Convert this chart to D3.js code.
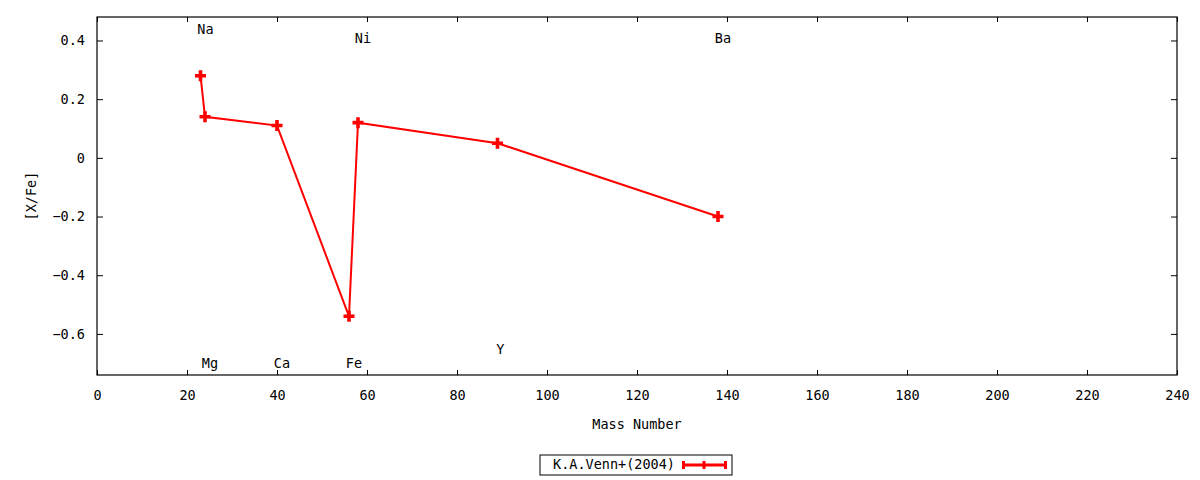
<!DOCTYPE html>
<html>
<head>
<meta charset="utf-8">
<script src="https://cdn.jsdelivr.net/npm/d3@7"></script>
<style>
  body { margin: 0; background: #fff; }
  text { font-family: "DejaVu Sans Mono", monospace; font-size: 13.5px; fill: #000; }
</style>
</head>
<body>
<div id="root"></div>
<script>
// data
var elements = ["Na", "Mg", "Ca", "Fe", "Ni", "Y", "Ba"]
var massNumber = [23, 24, 40, 56, 58, 89, 138]
var xFe = [0.28, 0.14, 0.11, -0.54, 0.12, 0.05, -0.20]
// where the element names sit
var labelX = [22.3, 23.3, 39.3, 55.3, 57.3, 88.7, 137.3]
var labelY = [0.44, -0.70, -0.70, -0.70, 0.41, -0.65, 0.41]
var xTicks = [0, 20, 40, 60, 80, 100, 120, 140, 160, 180, 200, 220, 240]
var yTicks = [-0.6, -0.4, -0.2, 0, 0.2, 0.4]
var seriesName = "K.A.Venn+(2004)"

var margin = {top: 17, right: 23, bottom: 105, left: 97}
var width = 1200 - margin.left - margin.right
var height = 480 - margin.top - margin.bottom

var svg = d3.select("#root")
            .append("svg")
            .attr("width", 1200)
            .attr("height", 480)
            .append("g")
            .attr("transform", "translate(" + margin.left + "," + margin.top + ")")

var x = d3.scaleLinear().domain([0, 240]).range([0, width])
var y = d3.scaleLinear().domain([-0.74, 0.48]).range([height, 0])

var fmt = function(d){ return d === 0 ? "0" : d3.format(".1f")(d) }

// axes, ticks pointing inward and mirrored like gnuplot
svg.append("g")
    .attr("transform", "translate(0," + height + ")")
    .call(d3.axisBottom(x).tickValues(xTicks).tickSizeInner(-5).tickSizeOuter(0).tickPadding(15))
svg.append("g")
    .call(d3.axisTop(x).tickValues(xTicks).tickSizeInner(-5).tickSizeOuter(0).tickFormat(""))
svg.append("g")
    .call(d3.axisLeft(y).tickValues(yTicks).tickFormat(fmt).tickSizeInner(-6).tickSizeOuter(0).tickPadding(12))
svg.append("g")
    .attr("transform", "translate(" + width + ",0)")
    .call(d3.axisRight(y).tickValues(yTicks).tickSizeInner(-6).tickSizeOuter(0).tickFormat(""))

svg.selectAll(".domain").remove()
svg.selectAll(".tick line").attr("stroke", "#000")
svg.selectAll(".tick text").style("font-size", "13.5px").style("font-family", "'DejaVu Sans Mono', monospace")

svg.append("rect")
    .attr("width", width)
    .attr("height", height)
    .attr("fill", "none")
    .attr("stroke", "#000")
    .attr("stroke-width", 1.2)

// axis titles
svg.append("text")
    .attr("x", width / 2)
    .attr("y", height + 54)
    .attr("text-anchor", "middle")
    .text("Mass Number")
svg.append("text")
    .attr("transform", "translate(" + (-65) + "," + (height / 2) + ") rotate(-90)")
    .attr("text-anchor", "middle")
    .attr("dominant-baseline", "middle")
    .text("[X/Fe]")

// element names
svg.selectAll(".elabel")
    .data(elements)
    .enter()
    .append("text")
      .attr("class", "elabel")
      .attr("x", function(d, i){ return x(labelX[i]) })
      .attr("y", function(d, i){ return y(labelY[i]) + 1 })
      .attr("dominant-baseline", "middle")
      .text(function(d){ return d })

// the series
var pts = massNumber.map(function(m, i){ return [m, xFe[i]] })
svg.append("path")
    .datum(pts)
    .attr("fill", "none")
    .attr("stroke", "#ff0000")
    .attr("stroke-width", 2)
    .attr("d", d3.line().x(function(d){ return x(d[0]) }).y(function(d){ return y(d[1]) }))

var plus = "M-5.5,0H5.5M0,-5.5V5.5"
svg.selectAll(".pt")
    .data(pts)
    .enter()
    .append("path")
      .attr("class", "pt")
      .attr("transform", function(d){ return "translate(" + x(d[0]) + "," + y(d[1]) + ")" })
      .attr("d", plus)
      .attr("stroke", "#ff0000")
      .attr("stroke-width", 3.6)

// legend
var leg = svg.append("g").attr("transform", "translate(" + (540 - margin.left) + "," + (455 - margin.top) + ")")
leg.append("rect")
    .attr("width", 192)
    .attr("height", 20)
    .attr("fill", "#fff")
    .attr("stroke", "#000")
leg.append("text")
    .attr("x", 135)
    .attr("y", 10)
    .attr("text-anchor", "end")
    .attr("dominant-baseline", "middle")
    .text(seriesName)
leg.append("path")
    .attr("d", "M143,10H186M143.5,6V14M185.5,6V14M164,6V14")
    .attr("stroke", "#ff0000")
    .attr("stroke-width", 3)
    .attr("fill", "none")
</script>
</body>
</html>
